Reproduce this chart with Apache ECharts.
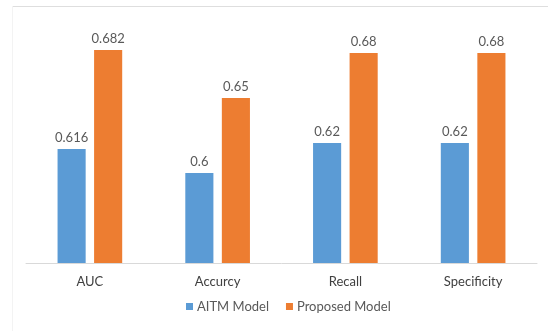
<!DOCTYPE html>
<html>
<head>
<meta charset="utf-8">
<script src="https://cdn.jsdelivr.net/npm/echarts@6/dist/echarts.min.js"></script>
<style>
  html, body { margin: 0; padding: 0; background: #fff; }
  #chart { width: 548px; height: 331px; }
</style>
</head>
<body>
<div id="chart"></div>
<script>
// Metric categories and scores for both models
const categories = ['AUC', 'Accurcy', 'Recall', 'Specificity'];
const aitmScores = [0.616, 0.6, 0.62, 0.62];
const proposedScores = [0.682, 0.65, 0.68, 0.68];
const seriesNames = ['AITM Model', 'Proposed Model'];

const FONT = 'Lato, "Open Sans", sans-serif';

const chart = echarts.init(document.getElementById('chart'), null, { renderer: 'canvas' });

const valueLabel = {
  show: true,
  position: 'top',
  distance: 5,
  color: '#595959',
  fontFamily: FONT,
  fontSize: 13
};

chart.setOption({
  animation: false,
  backgroundColor: '#ffffff',
  graphic: [
    // light frame edges of the chart area
    { type: 'line', shape: { x1: 12, y1: 6.5, x2: 548, y2: 6.5 }, style: { stroke: '#dedede', lineWidth: 1 } },
    { type: 'line', shape: { x1: 12.5, y1: 6, x2: 12.5, y2: 331 }, style: { stroke: '#f3f3f3', lineWidth: 1 } }
  ],
  grid: { left: 26, right: 11, top: 23, bottom: 68, containLabel: false },
  legend: {
    data: seriesNames,
    bottom: 13,
    left: 181,
    icon: 'rect',
    itemWidth: 7,
    itemHeight: 7,
    itemGap: 17,
    textStyle: { color: '#595959', fontFamily: FONT, fontSize: 13, padding: [0, 0, 0, -1] }
  },
  xAxis: {
    type: 'category',
    data: categories,
    axisLine: { show: true, lineStyle: { color: '#d9d9d9', width: 1 } },
    axisTick: { show: false },
    axisLabel: { color: '#404040', fontFamily: FONT, fontSize: 13, margin: 12 }
  },
  yAxis: {
    type: 'value',
    min: 0.54,
    max: 0.7,
    interval: 0.02,
    show: false,
    splitLine: { show: false }
  },
  series: [
    {
      name: seriesNames[0],
      type: 'bar',
      data: aitmScores,
      barWidth: '22%',
      barGap: '30%',
      itemStyle: { color: '#5B9BD5' },
      label: valueLabel
    },
    {
      name: seriesNames[1],
      type: 'bar',
      data: proposedScores,
      barWidth: '22%',
      barGap: '30%',
      itemStyle: { color: '#ED7D31' },
      label: valueLabel
    }
  ]
});
</script>
</body>
</html>
